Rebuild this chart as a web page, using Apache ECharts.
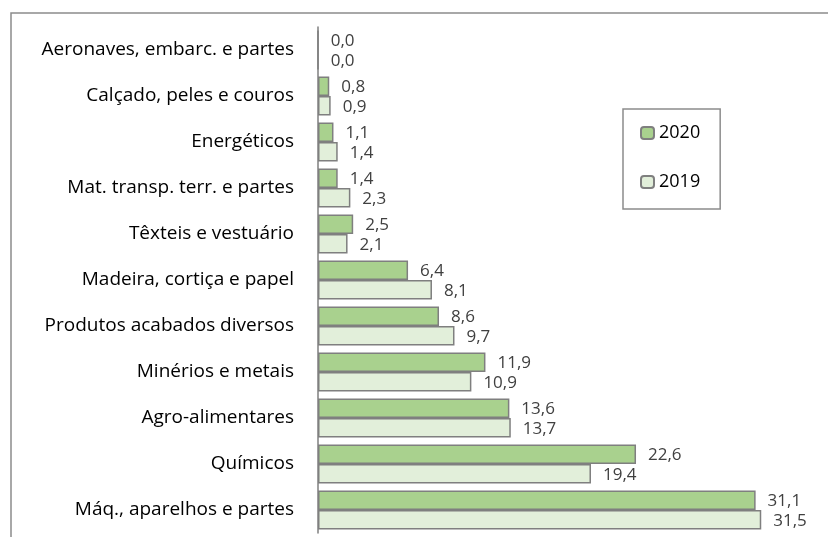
<!DOCTYPE html>
<html lang="pt">
<head>
  <meta charset="UTF-8">
  <title>bars</title>
  <style>
    * { padding: 0; margin: 0; }
    #charts { width: 828px; height: 537px; background: #fff; }
  </style>
</head>
<body>
  <div id="charts"></div>
<script src="https://cdn.jsdelivr.net/npm/echarts@6/dist/echarts.min.js"></script>
<script type="text/javascript">
  var categories = ['Aeronaves, embarc. e partes', 'Calçado, peles e couros', 'Energéticos',
    'Mat. transp. terr. e partes', 'Têxteis e vestuário', 'Madeira, cortiça e papel',
    'Produtos acabados diversos', 'Minérios e metais', 'Agro-alimentares', 'Químicos',
    'Máq., aparelhos e partes']
  var values2020 = [0.0, 0.8, 1.1, 1.4, 2.5, 6.4, 8.6, 11.9, 13.6, 22.6, 31.1]
  var values2019 = [0.0, 0.9, 1.4, 2.3, 2.1, 8.1, 9.7, 10.9, 13.7, 19.4, 31.5]
  var seriesNames = ['2020', '2019']

  var font = 'Open Sans'
  var myChart = echarts.init(document.getElementById('charts'))

  function fmt(p) {
    return p.value.toFixed(1).replace('.', ',')
  }

  var labelStyle = {
    show: true,
    position: 'right',
    distance: 12,
    offset: [0, 1],
    color: '#404040',
    fontFamily: font,
    fontSize: 17,
    formatter: fmt
  }

  var option = {
    animation: false,
    graphic: [{
      type: 'rect',
      shape: { x: 11, y: 13, width: 830, height: 540 },
      style: { fill: 'none', stroke: '#8c8c8c', lineWidth: 1.5 }
    }],
    legend: {
      orient: 'vertical',
      left: 623,
      top: 109,
      width: 97,
      height: 97,
      padding: [15, 20, 18, 17],
      itemGap: 31,
      itemWidth: 13,
      itemHeight: 12,
      borderColor: '#8c8c8c',
      borderWidth: 1.5,
      textStyle: { fontFamily: font, fontSize: 18, color: '#000' },
      data: seriesNames
    },
    grid: { left: 318, right: 17.5, top: 27, bottom: 4, containLabel: false },
    xAxis: {
      type: 'value',
      min: 0,
      max: 35,
      show: false,
      splitLine: { show: false }
    },
    yAxis: {
      type: 'category',
      inverse: true,
      data: categories,
      axisTick: { show: false },
      axisLine: { show: true, lineStyle: { color: '#7f7f7f', width: 1.5 } },
      axisLabel: { margin: 24, color: '#000', fontFamily: font, fontSize: 19 }
    },
    series: [{
      name: seriesNames[0],
      type: 'bar',
      data: values2020,
      barGap: '0%',
      barCategoryGap: '15%',
      itemStyle: { color: '#a9d18e', borderColor: '#7f7f7f', borderWidth: 1.5 },
      label: labelStyle
    }, {
      name: seriesNames[1],
      type: 'bar',
      data: values2019,
      barGap: '0%',
      barCategoryGap: '15%',
      itemStyle: { color: '#e2efda', borderColor: '#7f7f7f', borderWidth: 1.5 },
      label: labelStyle
    }]
  }
  myChart.setOption(option)
</script>
</body>
</html>
